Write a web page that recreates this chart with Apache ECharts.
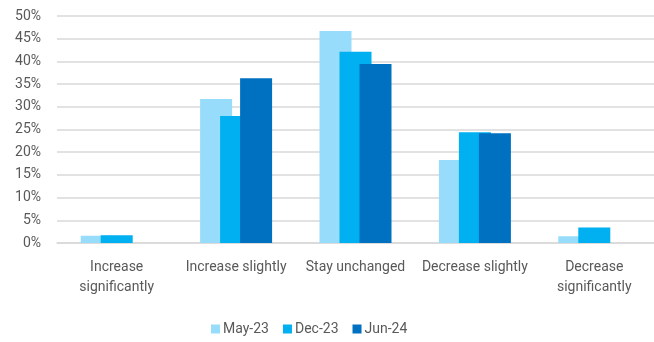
<!DOCTYPE html>
<html>
<head>
<meta charset="utf-8">
<script src="https://cdn.jsdelivr.net/npm/echarts@6/dist/echarts.min.js"></script>
<style>
  html, body { margin: 0; padding: 0; background: #fff; }
  #chart { width: 654px; height: 342px; }
</style>
</head>
<body>
<div id="chart"></div>
<script>
// Expected change in responses, share of respondents (%)
const categories = [
  'Increase\nsignificantly',
  'Increase slightly',
  'Stay unchanged',
  'Decrease slightly',
  'Decrease\nsignificantly'
];
const seriesNames = ['May-23', 'Dec-23', 'Jun-24'];
const may23 = [1.6, 31.7, 46.7, 18.3, 1.5];
const dec23 = [1.7, 28.0, 42.1, 24.4, 3.4];
const jun24 = [0, 36.3, 39.4, 24.2, 0];
const yTicks = { min: 0, max: 50, step: 5 };

const colors = ['#97DCFB', '#00B0F0', '#0070C0'];
const textColor = '#595959';
const font = 'Roboto';

const chart = echarts.init(document.getElementById('chart'), null, { renderer: 'canvas' });

const values = [may23, dec23, jun24];
chart.setOption({
  animation: false,
  grid: { left: 57, right: 0, top: 16, bottom: 99, containLabel: false },
  legend: {
    data: seriesNames,
    bottom: 1,
    left: 206,
    itemWidth: 9,
    itemHeight: 9,
    itemGap: 14,
    icon: 'rect',
    textStyle: { color: textColor, fontSize: 14, fontFamily: font, padding: [0, 0, 0, -2] }
  },
  xAxis: {
    type: 'category',
    data: categories,
    axisLine: { lineStyle: { color: '#D9D9D9', width: 1.5 } },
    axisTick: { show: false },
    axisLabel: {
      color: textColor,
      fontSize: 14,
      fontFamily: font,
      margin: 14,
      lineHeight: 20,
      interval: 0
    }
  },
  yAxis: {
    type: 'value',
    min: yTicks.min,
    max: yTicks.max,
    interval: yTicks.step,
    axisLine: { show: false },
    axisTick: { show: false },
    splitLine: { lineStyle: { color: '#D9D9D9', width: 1.5 } },
    axisLabel: {
      color: textColor,
      fontSize: 14,
      fontFamily: font,
      margin: 16,
      formatter: '{value}%'
    }
  },
  series: seriesNames.map((name, i) => ({
    name,
    type: 'bar',
    data: values[i],
    barWidth: 32,
    barGap: '-37.5%',
    itemStyle: { color: colors[i] }
  }))
});
</script>
</body>
</html>
